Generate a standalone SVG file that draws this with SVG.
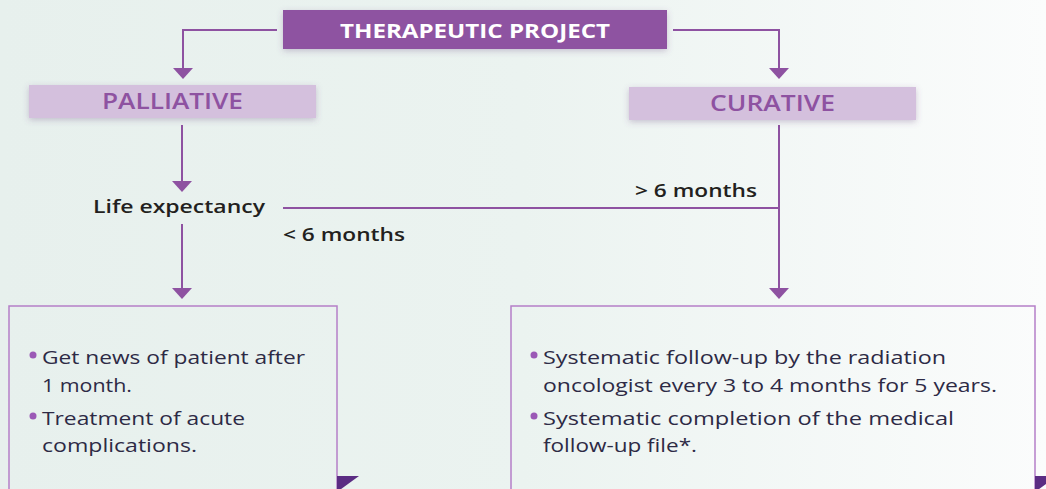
<svg xmlns="http://www.w3.org/2000/svg" width="1046" height="489" viewBox="0 0 1046 489">
<defs>
<linearGradient id="bg" x1="0" y1="0" x2="1" y2="0">
<stop offset="0" stop-color="#e7f0ed"/>
<stop offset="0.5" stop-color="#ebf3f0"/>
<stop offset="1" stop-color="#fbfcfc"/>
</linearGradient>
<filter id="sh" x="-10%" y="-40%" width="120%" height="180%">
<feDropShadow dx="0" dy="2" stdDeviation="3" flood-color="#6a4a80" flood-opacity="0.3"/>
</filter>
<marker id="arr" markerWidth="11" markerHeight="20" refX="0" refY="10" orient="auto" markerUnits="userSpaceOnUse" viewBox="0 0 11 20">
<path d="M0,0 L11,10 L0,20 Z" fill="#8e52a1"/>
</marker>
<style>
.conn{fill:none;stroke:#8e52a1;stroke-width:2}
.title{font-family:"Open Sans","Liberation Sans",sans-serif;font-weight:700;font-size:19px;fill:#ffffff}
.pill{font-family:"Open Sans","Liberation Sans",sans-serif;font-weight:600;font-size:21px;fill:#8e52a1}
.lbl{font-family:"Open Sans","Liberation Sans",sans-serif;font-weight:600;font-size:18px;fill:#231f20}
.body{font-family:"Open Sans","Liberation Sans",sans-serif;font-weight:400;font-size:19px;fill:#2d2a45}
.box{fill:none;stroke:#b57fc8;stroke-width:1.5}
.dot{fill:#9b59b6}
.fold{fill:#5b2c83}
</style>
</defs>
<rect x="0" y="0" width="1046" height="489" fill="url(#bg)"/>

<g id="connectors">
<path class="conn" d="M277,30 H183 V68" marker-end="url(#arr)"/>
<path class="conn" d="M673,30 H779 V68" marker-end="url(#arr)"/>
<path class="conn" d="M182,125 V181" marker-end="url(#arr)"/>
<path class="conn" d="M182,224 V288" marker-end="url(#arr)"/>
<path class="conn" d="M283,208 H779"/>
<path class="conn" d="M779,125 V288" marker-end="url(#arr)"/>
</g>

<g id="therapeutic-project">
<rect x="283" y="10" width="384" height="39" fill="#8e52a1" filter="url(#sh)"/>
<text class="title" x="340" y="38" textLength="270" lengthAdjust="spacingAndGlyphs">THERAPEUTIC PROJECT</text>
</g>

<g id="palliative">
<rect x="29" y="85" width="287" height="33" fill="#d4c0dd" filter="url(#sh)"/>
<text class="pill" x="102" y="109" textLength="141" lengthAdjust="spacingAndGlyphs">PALLIATIVE</text>
</g>

<g id="curative">
<rect x="629" y="87" width="287" height="33" fill="#d4c0dd" filter="url(#sh)"/>
<text class="pill" x="710" y="111" textLength="125" lengthAdjust="spacingAndGlyphs">CURATIVE</text>
</g>

<g id="life-expectancy">
<text class="lbl" x="93" y="213" textLength="172" lengthAdjust="spacingAndGlyphs">Life expectancy</text>
</g>

<g id="label-gt6">
<text class="lbl" x="635" y="197" textLength="122" lengthAdjust="spacingAndGlyphs">&gt; 6 months</text>
</g>

<g id="label-lt6">
<text class="lbl" x="283" y="241" textLength="122" lengthAdjust="spacingAndGlyphs">&lt; 6 months</text>
</g>

<g id="palliative-actions">
<rect class="box" x="9" y="306" width="328" height="200"/>
<polygon class="fold" points="337,476 359,476 337,492"/>
<circle class="dot" cx="33" cy="355" r="3.5"/>
<text class="body" x="42" y="364" textLength="263" lengthAdjust="spacingAndGlyphs">Get news of patient after</text>
<text class="body" x="42" y="392" textLength="90" lengthAdjust="spacingAndGlyphs">1 month.</text>
<circle class="dot" cx="33" cy="416" r="3.5"/>
<text class="body" x="42" y="425" textLength="203" lengthAdjust="spacingAndGlyphs">Treatment of acute</text>
<text class="body" x="42" y="452" textLength="155" lengthAdjust="spacingAndGlyphs">complications.</text>
</g>

<g id="curative-actions">
<rect class="box" x="511" y="306" width="524" height="200"/>
<polygon class="fold" points="1035,476 1057,476 1035,492"/>
<circle class="dot" cx="534" cy="355" r="3.5"/>
<text class="body" x="543" y="364" textLength="403" lengthAdjust="spacingAndGlyphs">Systematic follow-up by the radiation</text>
<text class="body" x="543" y="392" textLength="454" lengthAdjust="spacingAndGlyphs">oncologist every 3 to 4 months for 5 years.</text>
<circle class="dot" cx="534" cy="416" r="3.5"/>
<text class="body" x="543" y="425" textLength="411" lengthAdjust="spacingAndGlyphs">Systematic completion of the medical</text>
<text class="body" x="543" y="452" textLength="154" lengthAdjust="spacingAndGlyphs">follow-up file*.</text>
</g>
</svg>
